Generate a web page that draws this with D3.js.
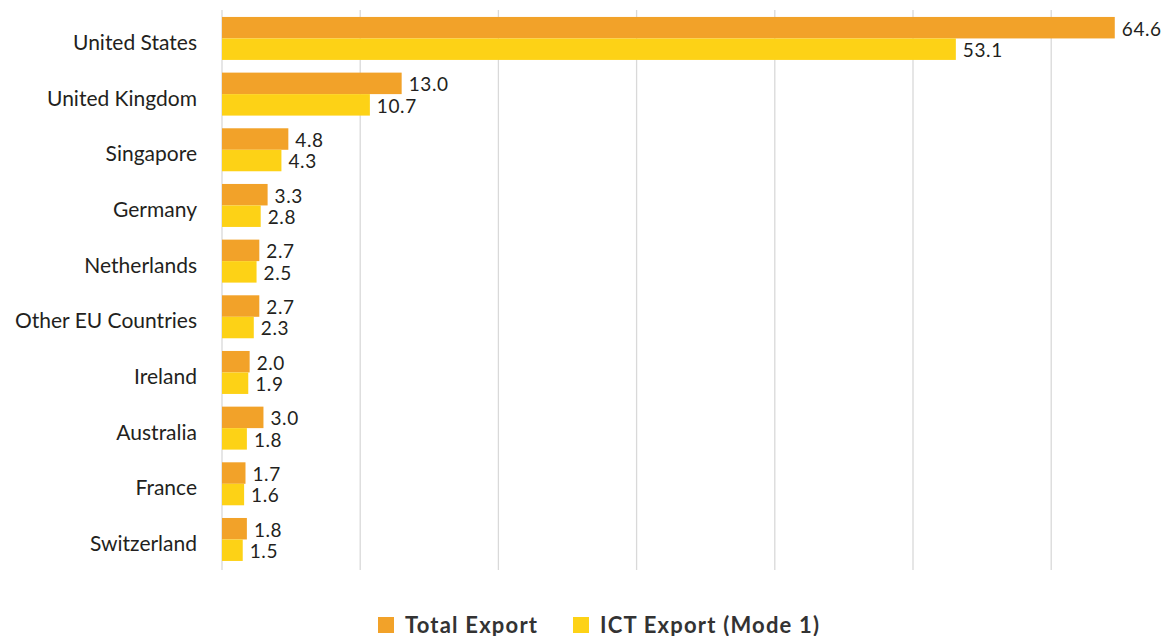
<!DOCTYPE html>
<html>
<head>
<meta charset="utf-8">
<script src="https://cdn.jsdelivr.net/npm/d3@7"></script>
<style>
  body { margin: 0; background: #fff; }
  text { font-family: Lato, "Noto Sans", sans-serif; fill: #231f20; }
</style>
</head>
<body>
<div id="chart"></div>
<script>
// data
var countries = ["United States", "United Kingdom", "Singapore", "Germany", "Netherlands",
  "Other EU Countries", "Ireland", "Australia", "France", "Switzerland"];
var totalExport = [64.6, 13.0, 4.8, 3.3, 2.7, 2.7, 2.0, 3.0, 1.7, 1.8];
var ictExport = [53.1, 10.7, 4.3, 2.8, 2.5, 2.3, 1.9, 1.8, 1.6, 1.5];
var gridTicks = [0, 10, 20, 30, 40, 50, 60];
var seriesNames = ["Total Export", "ICT Export (Mode 1)"];
var seriesColors = ["#f2a229", "#fdd216"];

var svgWidth = 1175;
var svgHeight = 636;

var svg = d3.select("#chart")
  .append("svg")
  .attr("width", svgWidth)
  .attr("height", svgHeight);

// x scale: 0 at 222, 10 units ~ 138px
var xScale = d3.scaleLinear()
  .domain([0, 70])
  .range([222, 222 + 70 * 13.82]);

var yScale = d3.scaleBand()
  .domain(countries)
  .range([10.6, 567.3])
  .paddingInner(0.228)
  .paddingOuter(0.114);

var ySub = d3.scaleBand()
  .domain([0, 1])
  .range([0, yScale.bandwidth()]);

// gridlines
svg.append("g")
  .selectAll("line")
  .data(gridTicks)
  .enter()
  .append("line")
  .attr("x1", d => xScale(d))
  .attr("x2", d => xScale(d))
  .attr("y1", 10)
  .attr("y2", 570)
  .attr("stroke", "#d9d9d9")
  .attr("stroke-width", 1.3);

// rows
var rows = countries.map((c, i) => ({ name: c, vals: [totalExport[i], ictExport[i]] }));

var groups = svg.selectAll(".row")
  .data(rows)
  .enter()
  .append("g")
  .attr("class", "row")
  .attr("transform", d => `translate(0, ${yScale(d.name)})`);

groups.selectAll("rect")
  .data(d => d.vals)
  .enter()
  .append("rect")
  .attr("x", xScale(0))
  .attr("y", (d, i) => ySub(i))
  .attr("width", d => xScale(d) - xScale(0))
  .attr("height", ySub.bandwidth())
  .attr("fill", (d, i) => seriesColors[i]);

groups.selectAll(".val")
  .data(d => d.vals)
  .enter()
  .append("text")
  .attr("class", "val")
  .attr("x", d => xScale(d) + 7)
  .attr("y", (d, i) => ySub(i) + ySub.bandwidth() / 2 + 1)
  .attr("dy", "0.36em")
  .style("font-size", "19px")
  .style("letter-spacing", "0.6px")
  .text(d => d.toFixed(1));

// category labels
svg.append("g")
  .selectAll("text")
  .data(countries)
  .enter()
  .append("text")
  .attr("x", 197)
  .attr("y", d => yScale(d) + yScale.bandwidth() / 2 + 4)
  .attr("dy", "0.36em")
  .attr("text-anchor", "end")
  .style("font-size", "21px")
  .text(d => d);

// legend
var legendX = [378, 573];
var legend = svg.append("g")
  .selectAll("g")
  .data(seriesNames)
  .enter()
  .append("g")
  .attr("transform", (d, i) => `translate(${legendX[i]}, 617)`);

legend.append("rect")
  .attr("width", 16)
  .attr("height", 16)
  .attr("fill", (d, i) => seriesColors[i]);

legend.append("text")
  .attr("x", 27)
  .attr("y", 15.5)
  .style("font-size", "22px")
  .style("font-weight", "bold")
  .style("letter-spacing", "1.2px")
  .style("fill", "#333")
  .text(d => d);
</script>
</body>
</html>
